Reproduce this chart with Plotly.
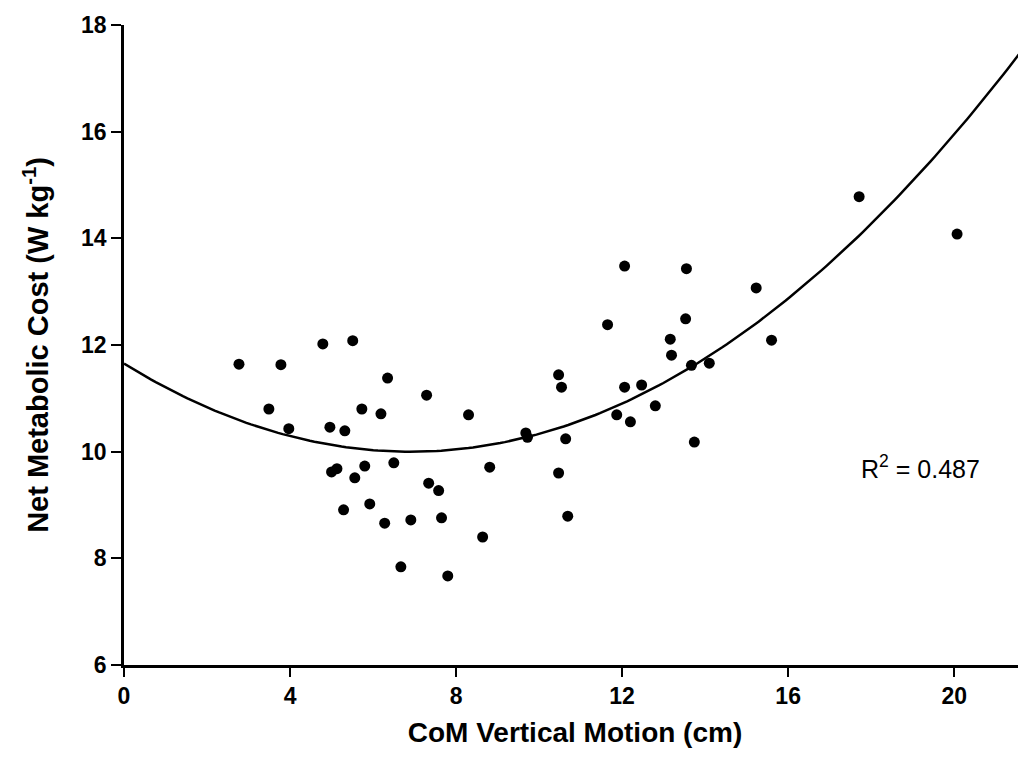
import numpy as np
import plotly.graph_objects as go

# Scatter data (CoM vertical motion in cm, net metabolic cost in W/kg)
com_motion = [2.77, 3.78, 4.79, 5.51, 6.35, 7.29, 8.30, 3.49, 3.97, 5.73,
              6.19, 4.96, 5.32, 5.00, 5.13, 5.80, 6.50, 5.56, 7.34, 7.58,
              5.92, 5.29, 6.28, 6.91, 7.65, 6.67, 7.80, 10.54, 12.06, 12.47,
              12.80, 11.87, 12.20, 13.74, 9.68, 9.72, 10.64, 8.81, 10.47, 8.64,
              10.69, 12.06, 13.55, 15.23, 11.65, 13.53, 13.16, 13.19, 13.67, 14.10,
              15.60, 10.47, 17.71, 20.07]
metabolic_cost = [11.64, 11.63, 12.02, 12.08, 11.38, 11.06, 10.69, 10.80, 10.43, 10.80,
                  10.71, 10.46, 10.39, 9.62, 9.68, 9.73, 9.79, 9.51, 9.41, 9.27,
                  9.02, 8.91, 8.66, 8.72, 8.76, 7.84, 7.67, 11.21, 11.21, 11.25,
                  10.86, 10.69, 10.56, 10.18, 10.35, 10.27, 10.24, 9.71, 9.60, 8.40,
                  8.79, 13.48, 13.43, 13.07, 12.38, 12.49, 12.11, 11.81, 11.62, 11.66,
                  12.09, 11.44, 14.78, 14.08]

# Quadratic fit coefficients (y = a*x^2 + b*x + c) as drawn
fit_coeffs = [0.03466, -0.4783, 11.65]
r_squared_label = "R<sup>2</sup> = 0.487"
r_squared_pos = (19.18, 9.72)

x_range = [0, 21.73]
y_range = [6, 18]
x_ticks = [0, 4, 8, 12, 16, 20]
y_ticks = [6, 8, 10, 12, 14, 16, 18]

fit_x = np.linspace(x_range[0], x_range[1], 200)
fit_y = np.polyval(fit_coeffs, fit_x)

fig = go.Figure()
fig.add_trace(go.Scatter(x=fit_x, y=fit_y, mode="lines",
                         line=dict(color="black", width=2.5),
                         showlegend=False, hoverinfo="skip", cliponaxis=True))
fig.add_trace(go.Scatter(x=com_motion, y=metabolic_cost, mode="markers",
                         marker=dict(color="black", size=11, line=dict(width=0)),
                         showlegend=False))

font_family = "Liberation Sans, Arial, sans-serif"
fig.update_layout(
    width=1018, height=767,
    margin=dict(l=116, r=0, t=17, b=110),
    paper_bgcolor="white", plot_bgcolor="white",
    font=dict(family=font_family, color="black", size=20),
    xaxis=dict(range=x_range, tickvals=x_ticks, showgrid=False, zeroline=False,
               showline=True, linecolor="black", linewidth=2.5,
               ticks="outside", ticklen=9, tickwidth=2, tickcolor="black",
               tickfont=dict(size=23, family=font_family, weight="bold"),
               title=dict(text="<b>CoM Vertical Motion (cm)</b>",
                          font=dict(size=28, family=font_family), standoff=15)),
    yaxis=dict(range=y_range, tickvals=y_ticks, showgrid=False, zeroline=False,
               showline=True, linecolor="black", linewidth=2.5,
               ticks="outside", ticklen=10, tickwidth=2, tickcolor="black",
               tickfont=dict(size=23, family=font_family, weight="bold"),
               title=dict(text="<b>Net Metabolic Cost (W kg<sup>-1</sup>)</b>",
                          font=dict(size=29, family=font_family), standoff=24)),
    annotations=[dict(x=r_squared_pos[0], y=r_squared_pos[1], xref="x", yref="y",
                      text=r_squared_label, showarrow=False,
                      font=dict(size=25, family=font_family))],
)

fig.write_html("out.html")
